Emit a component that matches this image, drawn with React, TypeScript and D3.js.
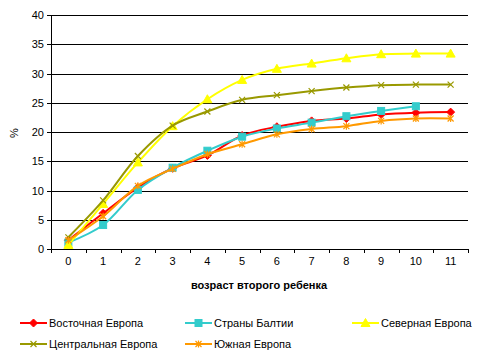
import React from "react";
import * as d3 from "d3";

const categories = ["0", "1", "2", "3", "4", "5", "6", "7", "8", "9", "10", "11"];
const yTicks = [0, 5, 10, 15, 20, 25, 30, 35, 40];

const eastEurope = [1.5, 6.1, 10.5, 13.8, 16.0, 19.4, 20.9, 21.9, 22.3, 23.0, 23.3, 23.4];
const baltic = [1.1, 4.1, 10.1, 13.9, 16.8, 19.2, 20.6, 21.6, 22.7, 23.6, 24.4];
const northEurope = [0.7, 7.7, 14.8, 21.0, 25.6, 28.9, 30.8, 31.7, 32.6, 33.3, 33.4, 33.4];
const centralEurope = [2.0, 8.3, 15.9, 21.1, 23.5, 25.5, 26.3, 27.0, 27.6, 28.0, 28.1, 28.1];
const southEurope = [1.5, 5.6, 10.8, 13.7, 16.2, 17.9, 19.6, 20.5, 21.0, 21.9, 22.3, 22.3];

const seriesNames = ["Восточная Европа", "Страны Балтии", "Северная Европа", "Центральная Европа", "Южная Европа"];
const seriesData = [eastEurope, baltic, northEurope, centralEurope, southEurope];
const seriesColors = ["#FF0000", "#33CCCC", "#FFFF00", "#999900", "#FF9900"];
const seriesMarkers = ["diamond", "square", "triangle", "x", "star"];

const W = 483, H = 364;
const left = 51, right = 468, top = 15, bottom = 249;

function Marker({ type, x, y, color }: { type: string; x: number; y: number; color: string }) {
  if (type === "diamond") {
    return <path d={`M${x},${y - 4}L${x + 4},${y}L${x},${y + 4}L${x - 4},${y}Z`} fill={color} stroke={color} />;
  }
  if (type === "square") {
    return <rect x={x - 3.5} y={y - 3.5} width={7} height={7} fill={color} stroke={color} />;
  }
  if (type === "triangle") {
    return <path d={`M${x},${y - 4.5}L${x + 4.5},${y + 3.5}L${x - 4.5},${y + 3.5}Z`} fill={color} stroke={color} />;
  }
  if (type === "x") {
    return (
      <path d={`M${x - 3},${y - 3}L${x + 3},${y + 3}M${x - 3},${y + 3}L${x + 3},${y - 3}`} stroke={color} strokeWidth={1.2} />
    );
  }
  return (
    <path
      d={`M${x - 3},${y - 3}L${x + 3},${y + 3}M${x - 3},${y + 3}L${x + 3},${y - 3}M${x},${y - 3.5}L${x},${y + 3.5}`}
      stroke={color}
      strokeWidth={1.2}
    />
  );
}

export default function App() {
  const x = d3.scaleBand<string>().domain(categories).range([left, right]);
  const y = d3.scaleLinear().domain([0, 40]).range([bottom, top]);
  const cx = (i: number) => (x(categories[i]) as number) + x.bandwidth() / 2;
  const line = d3
    .line<number>()
    .x((_, i) => cx(i))
    .y((d) => y(d))
    .curve(d3.curveCatmullRom.alpha(0.5));

  const font = "'Liberation Sans', Arial, sans-serif";
  const legendPos = [
    [20, 323],
    [185, 323],
    [352, 323],
    [20, 344],
    [185, 344],
  ];
  const boundaries = categories.map((_, i) => left + i * x.bandwidth()).concat([right]);

  return (
    <svg width={W} height={H} style={{ position: "absolute", left: 0, top: 0, background: "#fff" }} fontFamily={font}>
      <rect width={W} height={H} fill="#fff" />
      {yTicks.slice(1).map((t) => (
        <line key={t} x1={left} x2={right} y1={Math.round(y(t)) + 0.5} y2={Math.round(y(t)) + 0.5} stroke="#000" />
      ))}
      {yTicks.map((t) => (
        <g key={"yt" + t}>
          <line x1={left - 4} x2={left} y1={Math.round(y(t)) + 0.5} y2={Math.round(y(t)) + 0.5} stroke="#000" />
          <text x={left - 7} y={y(t) + 4} fontSize={11} textAnchor="end" fill="#000">
            {t}
          </text>
        </g>
      ))}
      <line x1={left + 0.5} x2={left + 0.5} y1={top} y2={bottom} stroke="#000" />
      <line x1={left} x2={right} y1={bottom + 0.5} y2={bottom + 0.5} stroke="#000" />
      {boundaries.map((b, i) => (
        <line key={"xt" + i} x1={Math.round(b) + 0.5} x2={Math.round(b) + 0.5} y1={bottom} y2={bottom + 4} stroke="#000" />
      ))}
      {categories.map((c, i) => (
        <text key={"xl" + c} x={cx(i)} y={bottom + 16} fontSize={11} textAnchor="middle" fill="#000">
          {c}
        </text>
      ))}
      <text x={18} y={133} fontSize={11} textAnchor="middle" transform={`rotate(-90 18 133)`} fill="#000">
        %
      </text>
      <text x={259} y={289} fontSize={11} fontWeight="bold" textAnchor="middle" fill="#000">
        возраст второго ребенка
      </text>
      {seriesData.map((s, k) => (
        <g key={"s" + k}>
          <path d={line(s) as string} fill="none" stroke={seriesColors[k]} strokeWidth={2} />
          {s.map((v, i) => (
            <Marker key={i} type={seriesMarkers[k]} x={cx(i)} y={y(v)} color={seriesColors[k]} />
          ))}
        </g>
      ))}
      {seriesNames.map((n, k) => {
        const [lx, ly] = legendPos[k];
        return (
          <g key={"lg" + k}>
            <line x1={lx} x2={lx + 27} y1={ly} y2={ly} stroke={seriesColors[k]} strokeWidth={2} />
            <Marker type={seriesMarkers[k]} x={lx + 13.5} y={ly} color={seriesColors[k]} />
            <text x={lx + 29} y={ly + 4} fontSize={11} fill="#000">
              {n}
            </text>
          </g>
        );
      })}
    </svg>
  );
}
